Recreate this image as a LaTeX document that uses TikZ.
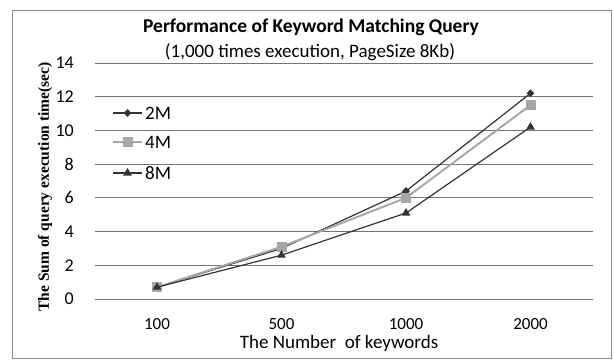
\documentclass[tikz,border=0pt]{standalone}
\usepackage{fontspec}
\setmainfont{Carlito}
\newfontfamily\serifbf{Liberation Serif}
\usetikzlibrary{positioning,shapes.geometric,calc}

\tikzstyle{frame}=[draw=black!45, line width=1pt]
\tikzstyle{grid_line}=[draw=black!55, line width=0.9pt]
\tikzstyle{tick_label}=[anchor=east, inner sep=0pt, font=\fontsize{18}{20}\selectfont]
\tikzstyle{cat_label}=[inner sep=0pt, font=\fontsize{17}{19}\selectfont]
\tikzstyle{DARK_LINE}=[draw=black!80, line width=1.2pt]
\tikzstyle{LIGHT_LINE}=[draw=black!35, line width=1.9pt]
\tikzstyle{mark_2M}=[diamond, fill=black!80, inner sep=0pt, minimum size=8pt]
\tikzstyle{mark_4M}=[rectangle, fill=black!35, inner sep=0pt, minimum size=10pt]
\tikzstyle{mark_8M}=[regular polygon, regular polygon sides=3, fill=black!80, inner sep=0pt, minimum size=10pt]
\tikzstyle{legend_text}=[anchor=west, inner sep=0pt, font=\fontsize{19}{21}\selectfont]

\begin{document}
\begin{tikzpicture}[x=1pt, y=1pt]
      \useasboundingbox (0,0) rectangle (614,360);
      \draw[frame] (12,2) rectangle (611,350);

      %%%%%%%%%%%%%%%%%%%%%%%%%%%%%%%%%%%%%%%%%%
      % TITLES
      %%%%%%%%%%%%%%%%%%%%%%%%%%%%%%%%%%%%%%%%%%
      \node[font=\bfseries\fontsize{19.5}{21}\selectfont] (T) at (311,333) {Performance of Keyword Matching Query};
      \node[font=\fontsize{19}{21}\selectfont] (ST) at (310,308) {(1,000 times execution, PageSize 8Kb)};

      %%%%%%%%%%%%%%%%%%%%%%%%%%%%%%%%%%%%%%%%%%
      % GRID AND AXES
      %%%%%%%%%%%%%%%%%%%%%%%%%%%%%%%%%%%%%%%%%%
      \foreach \v in {0,2,...,14} {
        \draw[grid_line] (95,61+16.86*\v) -- (593,61+16.86*\v);
        \node[tick_label] (Y\v) at (74,61+16.86*\v) {\v};
      }
      \foreach \i/\k in {1/100,2/500,3/1000,4/2000}
        \node[cat_label] (X\i) at (32.5+124.5*\i,36) {\k};
      \node[cat_label, font=\fontsize{19}{21}\selectfont] (XT) at (339,17) {The Number\ \ of keywords};
      \node[rotate=90, inner sep=0pt, font=\serifbf\bfseries\fontsize{15.5}{17}\selectfont] (YT) at (45,173) {The Sum of query execution time(sec)};

      %%%%%%%%%%%%%%%%%%%%%%%%%%%%%%%%%%%%%%%%%%
      % SERIES 2M
      %%%%%%%%%%%%%%%%%%%%%%%%%%%%%%%%%%%%%%%%%%
      \foreach \i/\v in {1/0.7,2/3.0,3/6.4,4/12.2}
        \coordinate (A\i) at (32.5+124.5*\i,61+16.86*\v);
      \draw[DARK_LINE] (A1) -- (A2) -- (A3) -- (A4);
      \foreach \i in {1,...,4} \node[mark_2M] (MA\i) at (A\i) {};

      %%%%%%%%%%%%%%%%%%%%%%%%%%%%%%%%%%%%%%%%%%
      % SERIES 4M
      %%%%%%%%%%%%%%%%%%%%%%%%%%%%%%%%%%%%%%%%%%
      \foreach \i/\v in {1/0.7,2/3.1,3/6.0,4/11.5}
        \coordinate (B\i) at (32.5+124.5*\i,61+16.86*\v);
      \draw[LIGHT_LINE] (B1) -- (B2) -- (B3) -- (B4);
      \foreach \i in {1,...,4} \node[mark_4M] (MB\i) at (B\i) {};

      %%%%%%%%%%%%%%%%%%%%%%%%%%%%%%%%%%%%%%%%%%
      % SERIES 8M
      %%%%%%%%%%%%%%%%%%%%%%%%%%%%%%%%%%%%%%%%%%
      \foreach \i/\v in {1/0.7,2/2.6,3/5.1,4/10.2}
        \coordinate (C\i) at (32.5+124.5*\i,61+16.86*\v);
      \draw[DARK_LINE] (C1) -- (C2) -- (C3) -- (C4);
      \foreach \i in {1,...,4} \node[mark_8M] (MC\i) at (C\i) {};

      %%%%%%%%%%%%%%%%%%%%%%%%%%%%%%%%%%%%%%%%%%
      % LEGEND
      %%%%%%%%%%%%%%%%%%%%%%%%%%%%%%%%%%%%%%%%%%
      \coordinate (LA) at (113,247);
      \coordinate (LB) at (113,218);
      \coordinate (LC) at (113,187);
      \coordinate[right= 29pt of LA] (LA2);
      \coordinate[right= 29pt of LB] (LB2);
      \coordinate[right= 29pt of LC] (LC2);
      \draw[DARK_LINE] (LA) -- (LA2);
      \draw[LIGHT_LINE] (LB) -- (LB2);
      \draw[DARK_LINE] (LC) -- (LC2);
      \node[mark_2M] (LMA) at ($(LA)!0.5!(LA2)$) {};
      \node[mark_4M] (LMB) at ($(LB)!0.5!(LB2)$) {};
      \node[mark_8M] (LMC) at ($(LC)!0.5!(LC2)$) {};
      \node[legend_text, right= 3pt of LA2] (LTA) {2M};
      \node[legend_text, right= 3pt of LB2] (LTB) {4M};
      \node[legend_text, right= 3pt of LC2] (LTC) {8M};
\end{tikzpicture}
\end{document}
